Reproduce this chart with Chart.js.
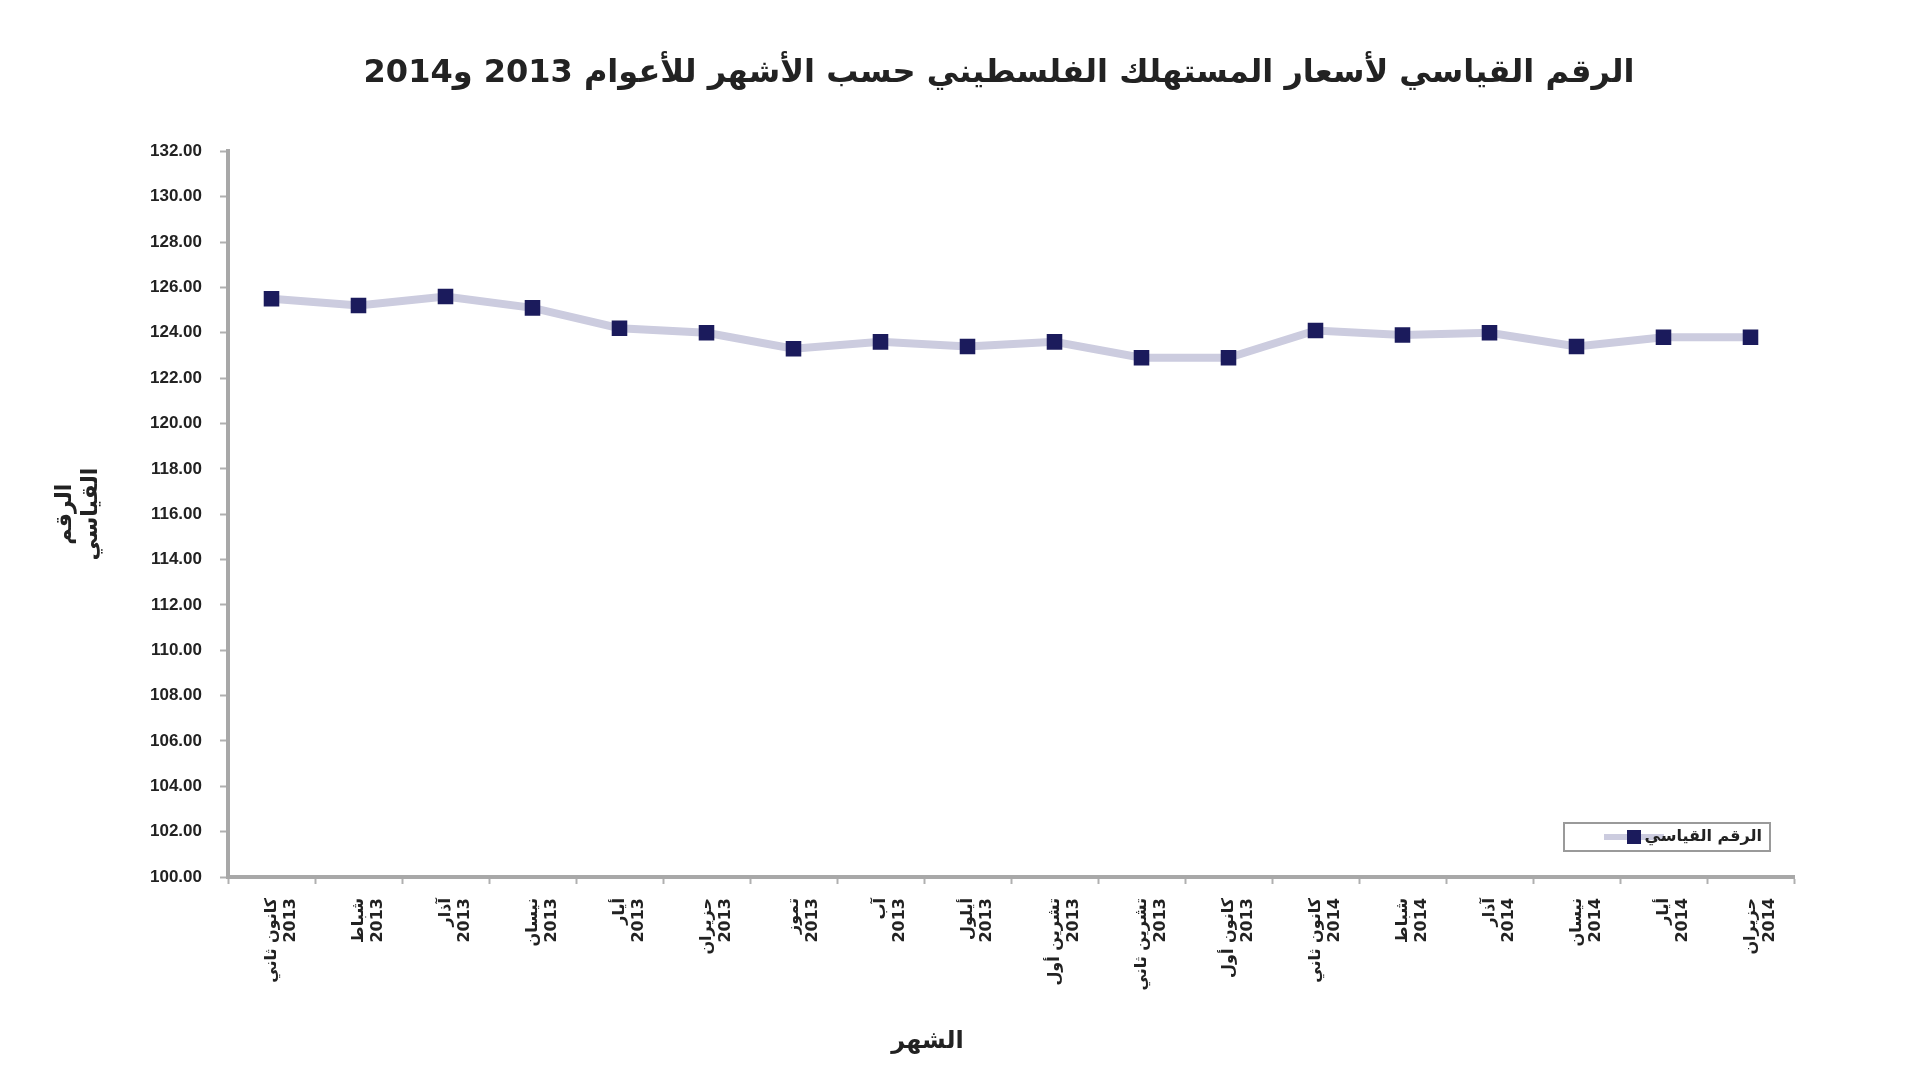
<!DOCTYPE html>
<html><head><meta charset="utf-8">
<script src="https://cdn.jsdelivr.net/npm/chart.js@4"></script>
<style>html,body{margin:0;padding:0;background:#fff}#wrap{width:1920px;height:1080px;position:relative}</style>
</head><body><div id="wrap"><canvas id="c"></canvas></div>
<script>
const chartTitle = 'الرقم القياسي لأسعار المستهلك الفلسطيني حسب الأشهر للأعوام 2013 و2014';
const yAxisTitle = ['الرقم', 'القياسي'];
const xAxisTitle = 'الشهر';
const seriesName = 'الرقم القياسي';
const monthNames = ['كانون ثاني','شباط','آذار','نيسان','أيار','حزيران','تموز','آب','أيلول','تشرين أول','تشرين ثاني','كانون أول','كانون ثاني','شباط','آذار','نيسان','أيار','حزيران'];
const yearLabels = ['2013','2013','2013','2013','2013','2013','2013','2013','2013','2013','2013','2013','2014','2014','2014','2014','2014','2014'];
const indexValues = [125.5,125.2,125.6,125.1,124.2,124.0,123.3,123.6,123.4,123.6,122.9,122.9,124.1,123.9,124.0,123.4,123.8,123.8];
const yMin = 100, yMax = 132, yStep = 2;

const categories = monthNames.map((m, i) => [m, yearLabels[i]]);

const insideLegend = {
  id: 'insideLegend',
  afterDraw(chart) {
    const ctx = chart.ctx, a = chart.chartArea;
    const ds = chart.data.datasets[0];
    const w = 206, h = 28;
    const x = a.right - 24 - w, y = a.bottom - 26 - h;
    ctx.save();
    ctx.fillStyle = '#ffffff';
    ctx.fillRect(x, y, w, h);
    ctx.strokeStyle = '#9a9a9a';
    ctx.lineWidth = 2;
    ctx.strokeRect(x, y, w, h);
    const my = y + h / 2;
    ctx.strokeStyle = ds.borderColor;
    ctx.lineWidth = 6;
    ctx.beginPath(); ctx.moveTo(x + 40, my); ctx.lineTo(x + 100, my); ctx.stroke();
    ctx.fillStyle = ds.pointBackgroundColor;
    ctx.fillRect(x + 63, my - 7, 14, 14);
    ctx.fillStyle = '#222';
    ctx.font = 'bold 16px "DejaVu Sans"';
    ctx.textAlign = 'right';
    ctx.textBaseline = 'middle';
    ctx.fillText(ds.label, x + w - 8, my);
    ctx.restore();
  }
};

new Chart(document.getElementById('c'), {
  type: 'line',
  data: {
    labels: categories,
    datasets: [{
      label: seriesName,
      data: indexValues,
      borderColor: '#ccccdf',
      borderWidth: 8,
      pointStyle: 'rect',
      pointRadius: 11,
      pointBackgroundColor: '#1b1b5c',
      pointBorderColor: '#1b1b5c',
      pointBorderWidth: 0,
      tension: 0,
      fill: false
    }]
  },
  options: {
    responsive: true,
    maintainAspectRatio: false,
    animation: false,
    devicePixelRatio: 1,
    layout: { padding: { left: 48, right: 126, top: 0, bottom: 18 } },
    plugins: {
      legend: { display: false },
      tooltip: { enabled: false },
      title: {
        display: true,
        text: '              ' + chartTitle,
        color: '#222',
        font: { family: '"DejaVu Sans"', size: 32, weight: 'bold' },
        padding: { top: 54, bottom: 59 }
      }
    },
    scales: {
      x: {
        offset: true,
        grid: { offset: true, drawOnChartArea: false, drawTicks: true, tickLength: 7, tickColor: '#b0b0b0', tickWidth: 2 },
        border: { display: true, color: '#a8a8a8', width: 4 },
        ticks: {
          autoSkip: false, maxRotation: 90, minRotation: 90, padding: 14,
          color: '#222', font: { family: '"DejaVu Sans"', size: 16, weight: 'bold' }
        },
        title: {
          display: true, text: xAxisTitle + '                    ', color: '#222',
          font: { family: '"DejaVu Sans"', size: 24, weight: 'bold' },
          padding: { top: 4, bottom: 6 }
        },
        afterFit(scale) { scale.height = 185; }
      },
      y: {
        min: yMin, max: yMax,
        grid: { drawOnChartArea: false, drawTicks: true, tickLength: 8, tickColor: '#b0b0b0', tickWidth: 2 },
        border: { display: true, color: '#a8a8a8', width: 4 },
        ticks: {
          stepSize: yStep, padding: 18, color: '#222',
          font: { family: '"Liberation Sans"', size: 17, weight: 'bold' },
          callback: v => Number(v).toFixed(2)
        },
        title: {
          display: true, text: yAxisTitle, color: '#222',
          font: { family: '"DejaVu Sans"', size: 22, weight: 'bold' },
          padding: { top: 4, bottom: 4 }
        },
        afterFit(scale) { scale.width = 180; }
      }
    }
  },
  plugins: [insideLegend]
});
</script>
</body></html>
